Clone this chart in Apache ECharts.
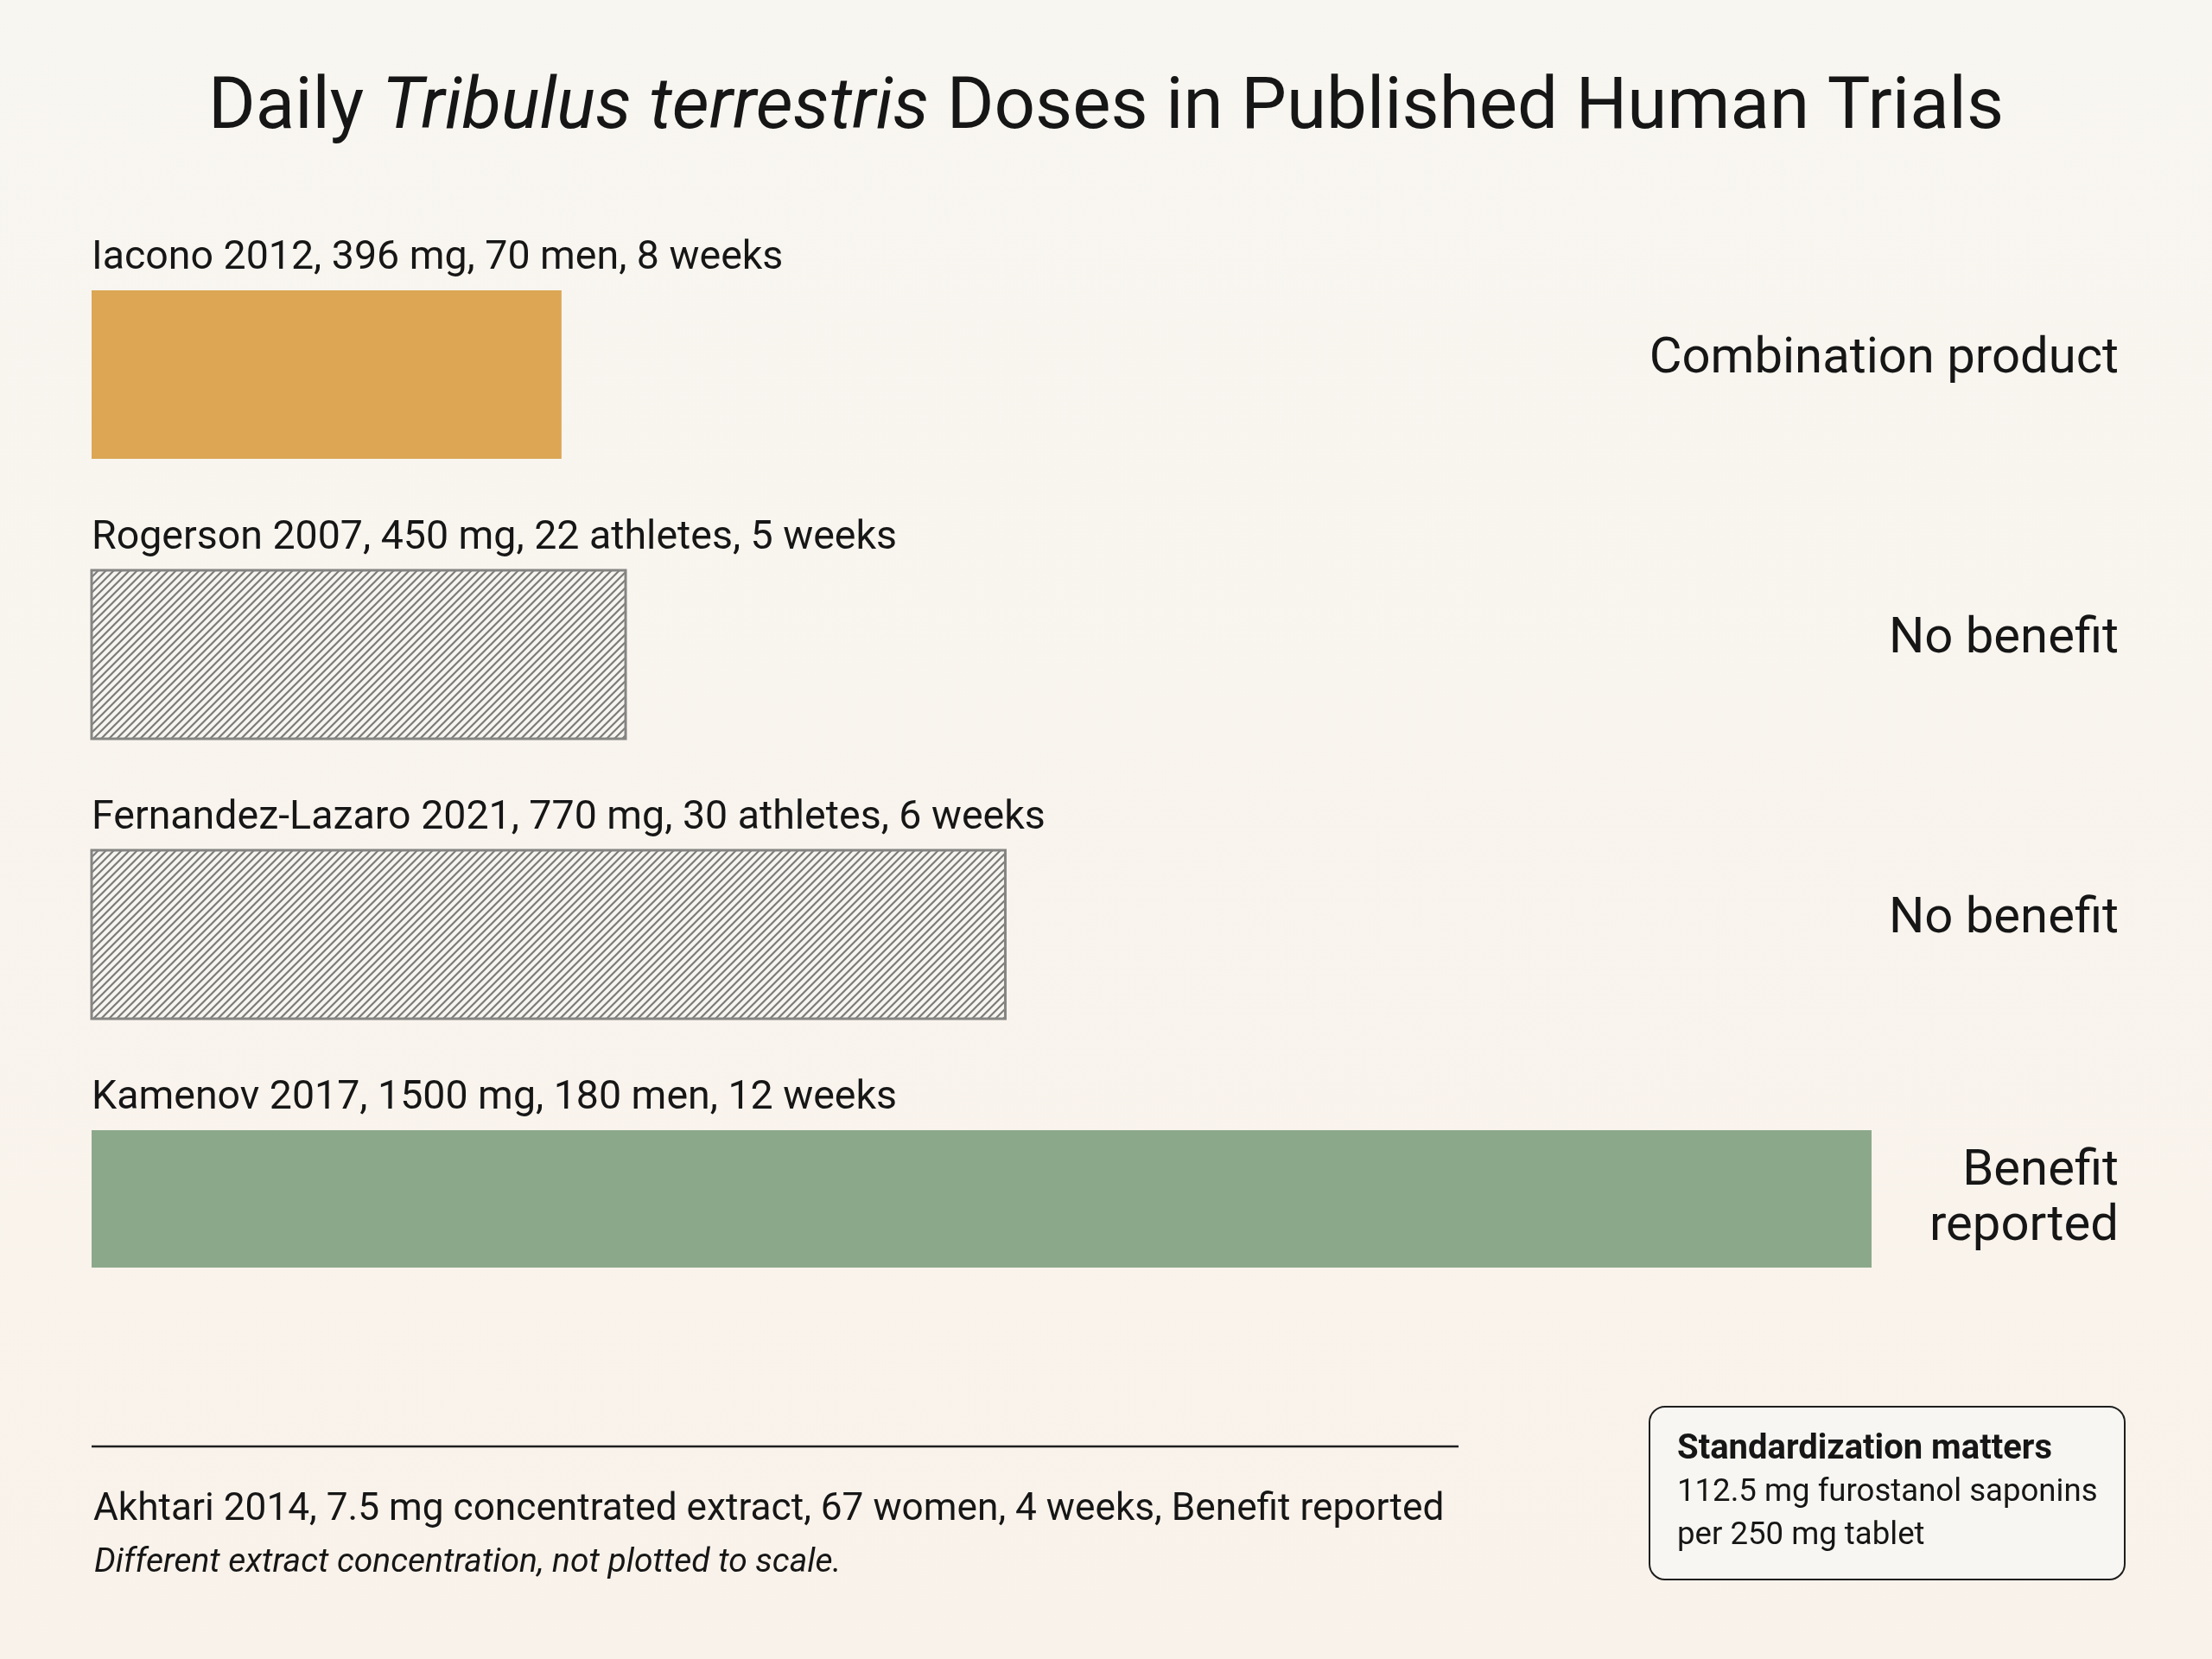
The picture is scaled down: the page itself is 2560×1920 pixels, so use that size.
<!DOCTYPE html>
<html>
<head>
<meta charset="utf-8">
<script src="https://cdn.jsdelivr.net/npm/echarts@6/dist/echarts.min.js"></script>
<style>
    html, body { margin: 0; padding: 0; background: #f8f4ee; }
    #chart { width: 2560px; height: 1920px; }
</style>
</head>
<body>
<div id="chart"></div>
<script>
const studies = ['Iacono 2012', 'Rogerson 2007', 'Fernandez-Lazaro 2021', 'Kamenov 2017'];
const doses = [396, 450, 770, 1500];
const participants = ['70 men', '22 athletes', '30 athletes', '180 men'];
const durations = ['8 weeks', '5 weeks', '6 weeks', '12 weeks'];
const outcomes = ['Combination product', 'No benefit', 'No benefit', 'Benefit\nreported'];

// trial that is listed below the chart, not drawn as a bar
const offScaleTrial = ['Akhtari 2014', '7.5 mg concentrated extract', '67 women', '4 weeks', 'Benefit reported'];
const offScaleNote = 'Different extract concentration, not plotted to scale.';
const calloutLines = ['Standardization matters', '112.5 mg furostanol saponins', 'per 250 mg tablet'];

const FONT = 'Roboto';
const INK = '#161616';

function hatchPattern() {
    const s = 9;
    const c = document.createElement('canvas');
    c.width = s;
    c.height = s;
    const ctx = c.getContext('2d');
    ctx.fillStyle = '#f7f5f0';
    ctx.fillRect(0, 0, s, s);
    ctx.strokeStyle = '#7c7c7a';
    ctx.lineWidth = 2.2;
    ctx.beginPath();
    ctx.moveTo(0, s); ctx.lineTo(s, 0);
    ctx.moveTo(-s / 2, s / 2); ctx.lineTo(s / 2, -s / 2);
    ctx.moveTo(s / 2, s * 1.5); ctx.lineTo(s * 1.5, s / 2);
    ctx.stroke();
    return c;
}
const hatch = hatchPattern();

function barStyle(outcome) {
    if (outcome.startsWith('Combination')) return { fill: '#dca654' };
    if (outcome.startsWith('No benefit')) return { fill: { image: hatch, repeat: 'repeat' }, stroke: '#858583', lineWidth: 3 };
    return { fill: '#8ba98a' };
}

const chart = echarts.init(document.getElementById('chart'));

const option = {
    backgroundColor: {
        type: 'linear', x: 0, y: 0, x2: 0, y2: 1,
        colorStops: [{ offset: 0, color: '#f8f6f1' }, { offset: 1, color: '#f9f2ea' }]
    },
    animation: false,
    title: {
        text: '{n|Daily }{i|Tribulus terrestris}{n| Doses in Published Human Trials}',
        left: 'center',
        top: 74,
        textStyle: {
            fontWeight: 'normal',
            rich: {
                n: { fontFamily: FONT, fontSize: 83.5, fontWeight: 'normal', color: INK, lineHeight: 96 },
                i: { fontFamily: FONT, fontSize: 83.5, fontWeight: 'normal', color: INK, fontStyle: 'italic', lineHeight: 96 }
            }
        }
    },
    grid: { left: 106, right: 394, top: 271, height: 1296 },
    xAxis: { type: 'value', min: 0, max: 1500, show: false },
    yAxis: { type: 'category', data: studies, inverse: true, show: false },
    series: [{
        type: 'custom',
        encode: { x: 0, y: 1 },
        data: doses.map((d, i) => [d, i]),
        renderItem: function(params, api) {
            const i = params.dataIndex;
            const start = api.coord([0, api.value(1)]);
            const end = api.coord([api.value(0), api.value(1)]);
            const band = api.size([0, 1])[1];
            const top = start[1] - band / 2 + 65;
            const height = i === doses.length - 1 ? 159 : 195;
            const right = params.coordSys.x + params.coordSys.width;
            const label = `${studies[i]}, ${doses[i]} mg, ${participants[i]}, ${durations[i]}`;
            return {
                type: 'group',
                children: [
                    {
                        type: 'rect',
                        shape: { x: start[0], y: top, width: end[0] - start[0], height: height },
                        style: barStyle(outcomes[i])
                    },
                    {
                        type: 'text',
                        x: start[0],
                        y: top - 37,
                        style: {
                            text: label, fill: INK, font: `46.5px ${FONT}`,
                            align: 'left', verticalAlign: 'middle'
                        }
                    },
                    {
                        type: 'text',
                        x: right + 286,
                        y: start[1] - 17,
                        style: {
                            text: outcomes[i], fill: INK, font: `58px ${FONT}`,
                            lineHeight: 64, align: 'right', verticalAlign: 'middle'
                        }
                    }
                ]
            };
        }
    }],
    graphic: [
        {
            type: 'line',
            shape: { x1: 106, y1: 1674, x2: 1688, y2: 1674 },
            style: { stroke: '#1e1e1e', lineWidth: 2.5 }
        },
        {
            type: 'text', x: 108, y: 1748,
            style: { text: offScaleTrial.join(', '), fill: INK, font: `44.2px ${FONT}`, verticalAlign: 'middle' }
        },
        {
            type: 'text', x: 109, y: 1809,
            style: { text: offScaleNote, fill: INK, font: `italic 39px ${FONT}`, verticalAlign: 'middle' }
        },
        {
            type: 'rect',
            shape: { x: 1909, y: 1628, width: 550, height: 200, r: 18 },
            style: { fill: '#f8f6f2', stroke: '#1e1e1e', lineWidth: 2 }
        },
        {
            type: 'text', x: 1941, y: 1678,
            style: { text: calloutLines[0], fill: INK, font: `bold 40px ${FONT}`, verticalAlign: 'middle' }
        },
        {
            type: 'text', x: 1941, y: 1728,
            style: { text: calloutLines[1], fill: INK, font: `36.6px ${FONT}`, verticalAlign: 'middle' }
        },
        {
            type: 'text', x: 1941, y: 1778,
            style: { text: calloutLines[2], fill: INK, font: `36.6px ${FONT}`, verticalAlign: 'middle' }
        }
    ]
};

chart.setOption(option);
</script>
</body>
</html>
